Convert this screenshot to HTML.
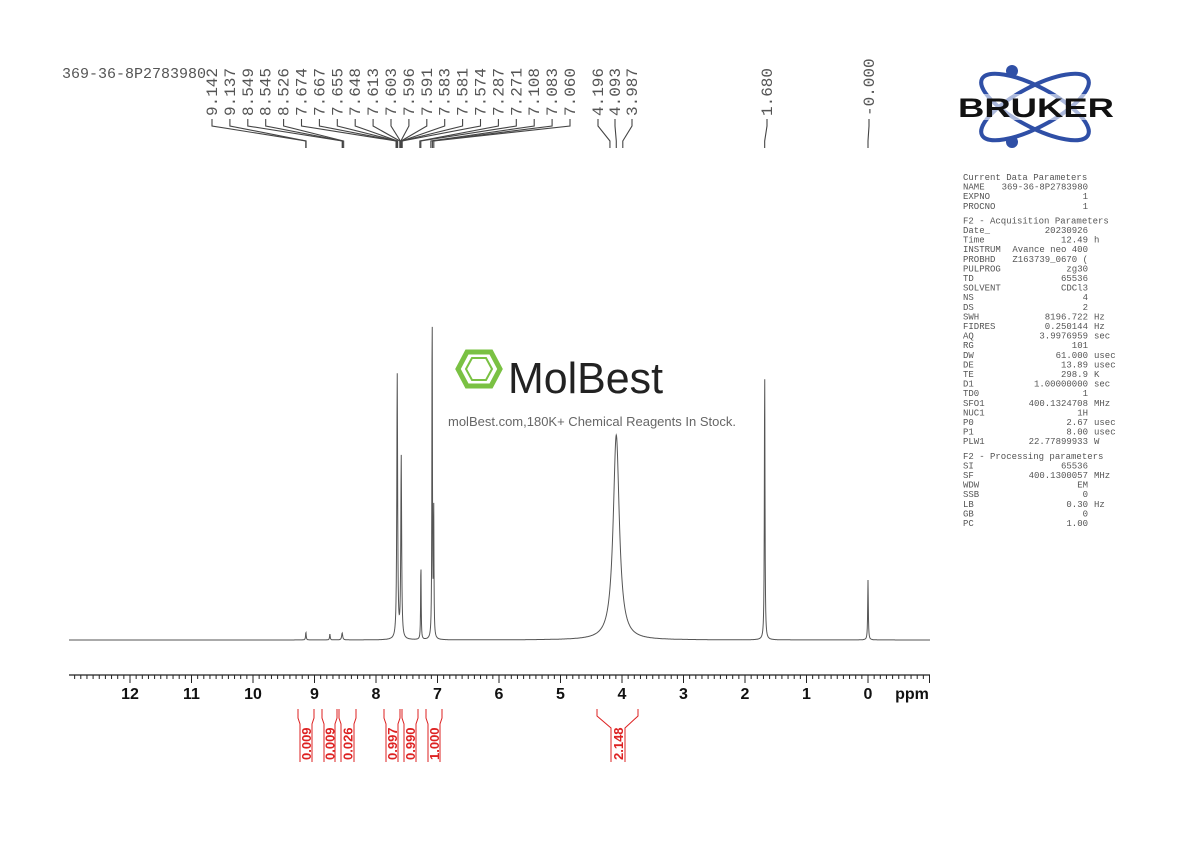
<!DOCTYPE html>
<html><head><meta charset="utf-8"><style>
html,body{margin:0;padding:0;background:#fff;width:1190px;height:842px;overflow:hidden}
svg{display:block}
.mono{font-family:"Liberation Mono",monospace}
.sans{font-family:"Liberation Sans",sans-serif}
</style></head><body>
<svg id="s" width="1190" height="842" viewBox="0 0 1190 842" xmlns="http://www.w3.org/2000/svg">
<text x="62" y="78" class="mono" font-size="15" fill="#555">369-36-8P2783980</text>
<g id="plabels" class="mono" font-size="16" fill="#555"></g>
<g id="conn" stroke="#444" stroke-width="1.1" fill="none"></g>
<path id="spec" stroke="#555" stroke-width="1" fill="none"/>
<g id="axis" stroke="#222" stroke-width="1.2"></g>
<g id="ticklab" class="sans" font-size="16" font-weight="bold" fill="#111" text-anchor="middle"></g>
<g id="integ" stroke="#d22" stroke-width="1" fill="none"></g>
<g id="intlab" class="sans" font-size="13" font-weight="bold" fill="#d22"></g>
<g>
<polygon points="458,369 467,352 491,352 500,369 491,386 467,386" fill="none" stroke="#7ac143" stroke-width="5"/>
<polygon points="466,369 472,358 486,358 492,369 486,380 472,380" fill="none" stroke="#7ac143" stroke-width="2"/>
<text x="508" y="393" class="sans" font-size="44" fill="#222" textLength="155" lengthAdjust="spacingAndGlyphs">MolBest</text>
<text x="448" y="426" class="sans" font-size="13" fill="#666">molBest.com,180K+ Chemical Reagents In Stock.</text>
</g>
<g fill="none" stroke="#2f4fa6" stroke-width="4">
<ellipse cx="1035" cy="107" rx="60" ry="20" transform="rotate(28 1035 107)"/>
<ellipse cx="1035" cy="107" rx="60" ry="20" transform="rotate(-28 1035 107)"/>
</g>
<circle cx="1012" cy="71" r="6" fill="#2f4fa6"/>
<circle cx="1012" cy="142" r="6" fill="#2f4fa6"/>
<rect x="958" y="94" width="156" height="26" fill="#fff" opacity="0.6"/>
<text x="1036" y="117" class="sans" font-size="27" font-weight="900" fill="#111" text-anchor="middle" textLength="156" lengthAdjust="spacingAndGlyphs">BRUKER</text>
<g id="params" class="mono" font-size="9" fill="#555"></g>
</svg>
<script>
var NS="http://www.w3.org/2000/svg";
function el(p,t,a,txt){var e=document.createElementNS(NS,t);for(var k in a)e.setAttribute(k,a[k]);if(txt!=null)e.textContent=txt;document.getElementById(p).appendChild(e);return e;}
function X(p){return 868-61.5*p;}
var peaks=[[7.655,265,0.008],[7.59,182,0.008],[7.27,78,0.005],[7.087,340,0.005],[7.062,130,0.005],[4.093,205,0.06],[1.68,270,0.006],[0.0,60,0.006],[9.14,8,0.006],[8.55,7,0.01],[8.75,6,0.006]];
var d="";
for(var x=69;x<=930;x+=0.25){var p=(868-x)/61.5,h=0;
for(var i=0;i<peaks.length;i++){var q=peaks[i],u=(p-q[0])/q[2];h+=q[1]/(1+u*u);}
d+=(x==69?"M":"L")+x.toFixed(2)+","+(640-h).toFixed(1);}
document.getElementById("spec").setAttribute("d",d);
el("axis","line",{x1:69,y1:675,x2:930,y2:675});
for(var t=-100;t<=1300;t+=10){var xx=X(t/100);if(xx<69||xx>930)continue;var big=t%100==0;
el("axis","line",{x1:xx,y1:675,x2:xx,y2:big?683:679,"stroke-width":1});
if(big&&t>=0)el("ticklab","text",{x:xx,y:699},String(t/100));}
el("ticklab","text",{x:912,y:699},"ppm");
var labs=["9.142","9.137","8.549","8.545","8.526","7.674","7.667","7.655","7.648","7.613","7.603","7.596","7.591","7.583","7.581","7.574","7.287","7.271","7.108","7.083","7.060"];
function lab(x,s,target){
 el("plabels","text",{x:0,y:0,transform:"translate("+(x+5)+",116) rotate(-90)"},s);
 el("conn","path",{d:"M"+x+",119 L"+x+",126 L"+target+",141 L"+target+",148"});}
for(var i=0;i<labs.length;i++){var v=parseFloat(labs[i]);lab(212+i*17.9,labs[i],X(v));}
lab(598,"4.196",X(4.196));lab(615,"4.093",X(4.093));lab(632,"3.987",X(3.987));
lab(767,"1.680",X(1.68));lab(869,"-0.000",X(0));
var ints=[[298,314,"0.009"],[322,337,"0.009"],[339,356,"0.026"],[384,400,"0.997"],[402,418,"0.990"],[426,442,"1.000"]];
ints.forEach(function(a){var m=(a[0]+a[1])/2;
el("integ","path",{d:"M"+a[0]+",709 L"+a[0]+",718 L"+(a[0]+2)+",724 L"+(a[0]+2)+",762 M"+a[1]+",709 L"+a[1]+",718 L"+(a[1]-2)+",724 L"+(a[1]-2)+",762"});
el("intlab","text",{x:0,y:0,transform:"translate("+(m+5)+",760) rotate(-90)"},a[2]);});
el("integ","path",{d:"M597,709 L597,716 L611,728 L611,762 M638,709 L638,716 L625,728 L625,762"});
el("intlab","text",{x:0,y:0,transform:"translate(623,760) rotate(-90)"},"2.148");
var P=[["Current Data Parameters",""],["NAME","369-36-8P2783980"],["EXPNO","1"],["PROCNO","1"],null,
["F2 - Acquisition Parameters",""],["Date_","20230926"],["Time","12.49 h"],["INSTRUM","Avance neo 400"],["PROBHD","Z163739_0670 ("],["PULPROG","zg30"],["TD","65536"],["SOLVENT","CDCl3"],["NS","4"],["DS","2"],["SWH","8196.722 Hz"],["FIDRES","0.250144 Hz"],["AQ","3.9976959 sec"],["RG","101"],["DW","61.000 usec"],["DE","13.89 usec"],["TE","298.9 K"],["D1","1.00000000 sec"],["TD0","1"],["SFO1","400.1324708 MHz"],["NUC1","1H"],["P0","2.67 usec"],["P1","8.00 usec"],["PLW1","22.77899933 W"],null,
["F2 - Processing parameters",""],["SI","65536"],["SF","400.1300057 MHz"],["WDW","EM"],["SSB","0"],["LB","0.30 Hz"],["GB","0"],["PC","1.00"]];
var y=180;
P.forEach(function(r){if(!r){y+=5;return;}
el("params","text",{x:963,y:y},r[0]);
if(r[1]){var s=r[1],parts=s.split(" ");var unit=parts.length>1&&/^[A-Za-z]+$/.test(parts[parts.length-1])&&s!="Avance neo 400"?parts.pop():"";
el("params","text",{x:1088,y:y,"text-anchor":"end"},parts.join(" "));
if(unit)el("params","text",{x:1094,y:y},unit);}
y+=9.6;});
</script>
</body></html>
